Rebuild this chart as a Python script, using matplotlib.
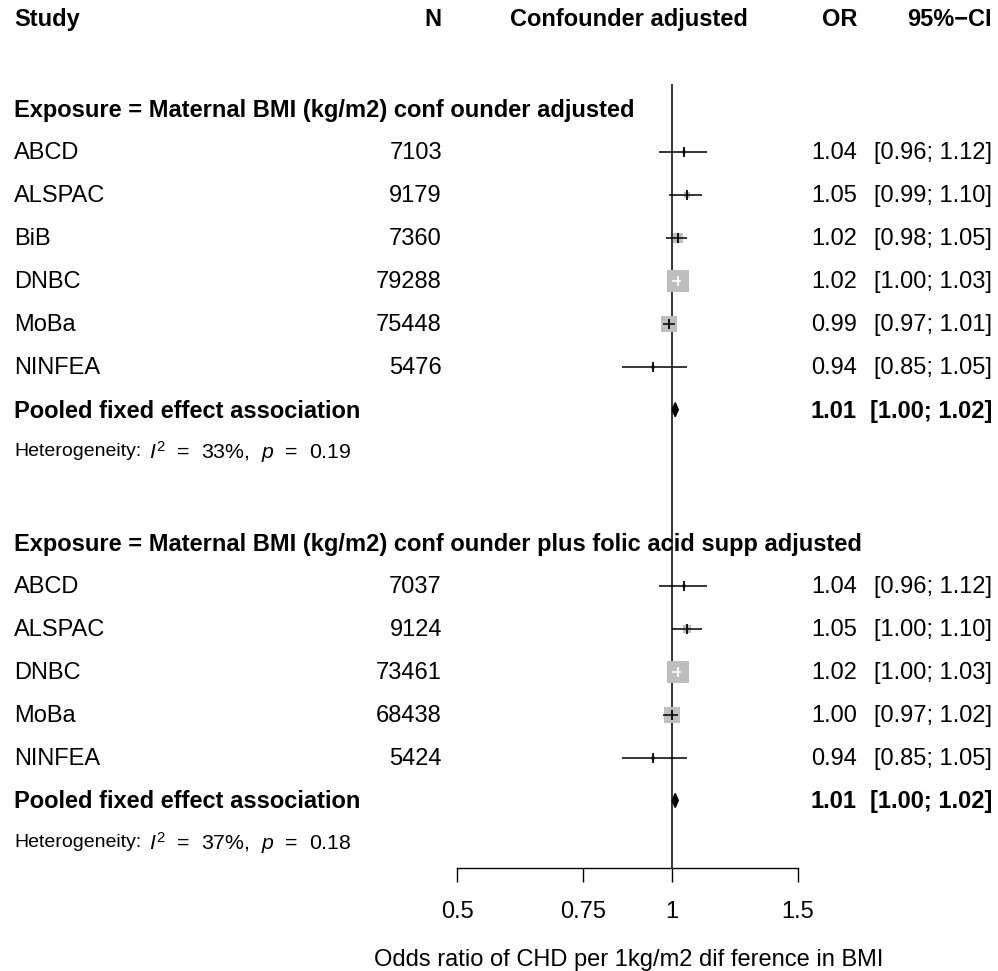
import matplotlib
matplotlib.use("Agg")
import matplotlib.pyplot as plt
from matplotlib.patches import Polygon
import numpy as np

plt.rcParams['font.family'] = ['Liberation Sans', 'DejaVu Sans']
plt.rcParams['mathtext.fontset'] = 'custom'
plt.rcParams['mathtext.rm'] = 'Liberation Sans'
plt.rcParams['mathtext.it'] = 'Liberation Sans:italic'

# subgroup 1: confounder adjusted
sub1_title = "Exposure = Maternal BMI (kg/m2) conf ounder adjusted"
sub1_studies = ["ABCD", "ALSPAC", "BiB", "DNBC", "MoBa", "NINFEA"]
sub1_n = [7103, 9179, 7360, 79288, 75448, 5476]
sub1_or = [1.04, 1.05, 1.02, 1.02, 0.99, 0.94]
sub1_lo = [0.96, 0.99, 0.98, 1.00, 0.97, 0.85]
sub1_hi = [1.12, 1.10, 1.05, 1.03, 1.01, 1.05]
sub1_weight = [2.0, 4.2, 9.9, 54.0, 28.8, 1.1]
sub1_pooled = (1.01, 1.00, 1.02)
sub1_het = (33, 0.19)

# subgroup 2: confounder plus folic acid adjusted
sub2_title = "Exposure = Maternal BMI (kg/m2) conf ounder plus folic acid supp adjusted"
sub2_studies = ["ABCD", "ALSPAC", "DNBC", "MoBa", "NINFEA"]
sub2_n = [7037, 9124, 73461, 68438, 5424]
sub2_or = [1.04, 1.05, 1.02, 1.00, 0.94]
sub2_lo = [0.96, 1.00, 1.00, 0.97, 0.85]
sub2_hi = [1.12, 1.10, 1.03, 1.02, 1.05]
sub2_weight = [2.5, 6.4, 62.0, 28.0, 1.3]
sub2_pooled = (1.01, 1.00, 1.02)
sub2_het = (37, 0.18)

xticks = [0.5, 0.75, 1, 1.5]
xtick_labels = ["0.5", "0.75", "1", "1.5"]
xlabel = "Odds ratio of CHD per 1kg/m2 dif ference in BMI"

W, H = 998, 971
fig = plt.figure(figsize=(W / 100, H / 100), dpi=100)

# text layer in pixel coords
tax = fig.add_axes([0, 0, 1, 1])
tax.set_xlim(0, W)
tax.set_ylim(H, 0)
tax.axis('off')

# forest layer, log x, same y pixels
fx0, fx1 = 457, 798
ax = fig.add_axes([fx0 / W, 0, (fx1 - fx0) / W, 1])
ax.set_xscale('log')
ax.set_xlim(0.5, 1.5)
ax.set_ylim(H, 0)
ax.patch.set_alpha(0)
for s in ['top', 'left', 'right']:
    ax.spines[s].set_visible(False)
ax.spines['bottom'].set_position(('data', 868))
ax.spines['bottom'].set_linewidth(1.0)
ax.set_yticks([])
ax.set_xticks(xticks)
ax.set_xticklabels(xtick_labels)
ax.minorticks_off()
ax.tick_params(axis='x', direction='out', length=10, width=1.0, pad=14, labelsize=17)

FS = 17
col_study, col_n, col_or, col_ci = 14, 442, 857, 992
step = 42.95
dy = 1.5  # small text nudge

# header
hy = 18 + dy
tax.text(col_study, hy, "Study", fontsize=FS, fontweight='bold', va='center', ha='left')
tax.text(col_n, hy, "N", fontsize=FS, fontweight='bold', va='center', ha='right')
tax.text(629, hy, "Confounder adjusted", fontsize=FS, fontweight='bold', va='center', ha='center')
tax.text(col_or, hy, "OR", fontsize=FS, fontweight='bold', va='center', ha='right')
tax.text(col_ci, hy, "95%\u2212CI", fontsize=FS, fontweight='bold', va='center', ha='right')

ax.vlines(1, 84, 868, color='black', lw=1.1)

max_w = 23  # px width of the biggest box


def draw_group(y0, title, studies, n, orv, lo, hi, weight, pooled, het):
    tax.text(col_study, y0 + dy, title, fontsize=FS, fontweight='bold', va='center', ha='left')
    wmax = max(weight)
    for i in range(len(studies)):
        y = y0 + step * (i + 1)
        tax.text(col_study, y + dy, studies[i], fontsize=FS, va='center', ha='left')
        tax.text(col_n, y + dy, str(n[i]), fontsize=FS, va='center', ha='right')
        tax.text(col_or, y + dy, "%.2f" % orv[i], fontsize=FS, va='center', ha='right')
        tax.text(col_ci, y + dy, "[%.2f; %.2f]" % (lo[i], hi[i]), fontsize=FS, va='center', ha='right')
        wpx = max_w * np.sqrt(weight[i] / wmax)
        pts = wpx * 0.72
        ax.scatter([orv[i]], [y], s=pts ** 2, marker='s', color='#BEBEBE', linewidths=0, zorder=3)
        # CI well inside the box -> white lines
        half = 0.6 * (wpx / 2) / 310.4
        inside = np.log(orv[i] / lo[i]) < half and np.log(hi[i] / orv[i]) < half
        lc = 'white' if inside else 'black'
        ax.hlines(y, lo[i], hi[i], color=lc, lw=1.1, zorder=4)
        ax.plot([orv[i]], [y], marker='|', markersize=7, color=lc, mew=1.3, zorder=4)
    yp = y0 + step * (len(studies) + 1)
    tax.text(col_study, yp + dy, "Pooled fixed effect association", fontsize=FS, fontweight='bold', va='center', ha='left')
    tax.text(col_or, yp + dy, "%.2f" % pooled[0], fontsize=FS, fontweight='bold', va='center', ha='right')
    tax.text(col_ci, yp + dy, "[%.2f; %.2f]" % (pooled[1], pooled[2]), fontsize=FS, fontweight='bold', va='center', ha='right')
    d = Polygon([(pooled[1], yp), (pooled[0], yp - 7), (pooled[2], yp), (pooled[0], yp + 7)],
                closed=True, color='black', zorder=4)
    ax.add_patch(d)
    yh = yp + step * 0.95
    tax.text(col_study, yh + dy, "Heterogeneity:", fontsize=14, va='center', ha='left')
    tax.text(149, yh + dy, r"$I^2$  =  %d%%,  $p$  =  %.2f" % het, fontsize=15.3, va='center', ha='left')


draw_group(109, sub1_title, sub1_studies, sub1_n, sub1_or, sub1_lo, sub1_hi, sub1_weight, sub1_pooled, sub1_het)
draw_group(109 + step * 10.1, sub2_title, sub2_studies, sub2_n, sub2_or, sub2_lo, sub2_hi, sub2_weight, sub2_pooled, sub2_het)

tax.text(629, 960, xlabel, fontsize=FS, va='center', ha='center')

fig.savefig("out.png", dpi=100, facecolor='white')
